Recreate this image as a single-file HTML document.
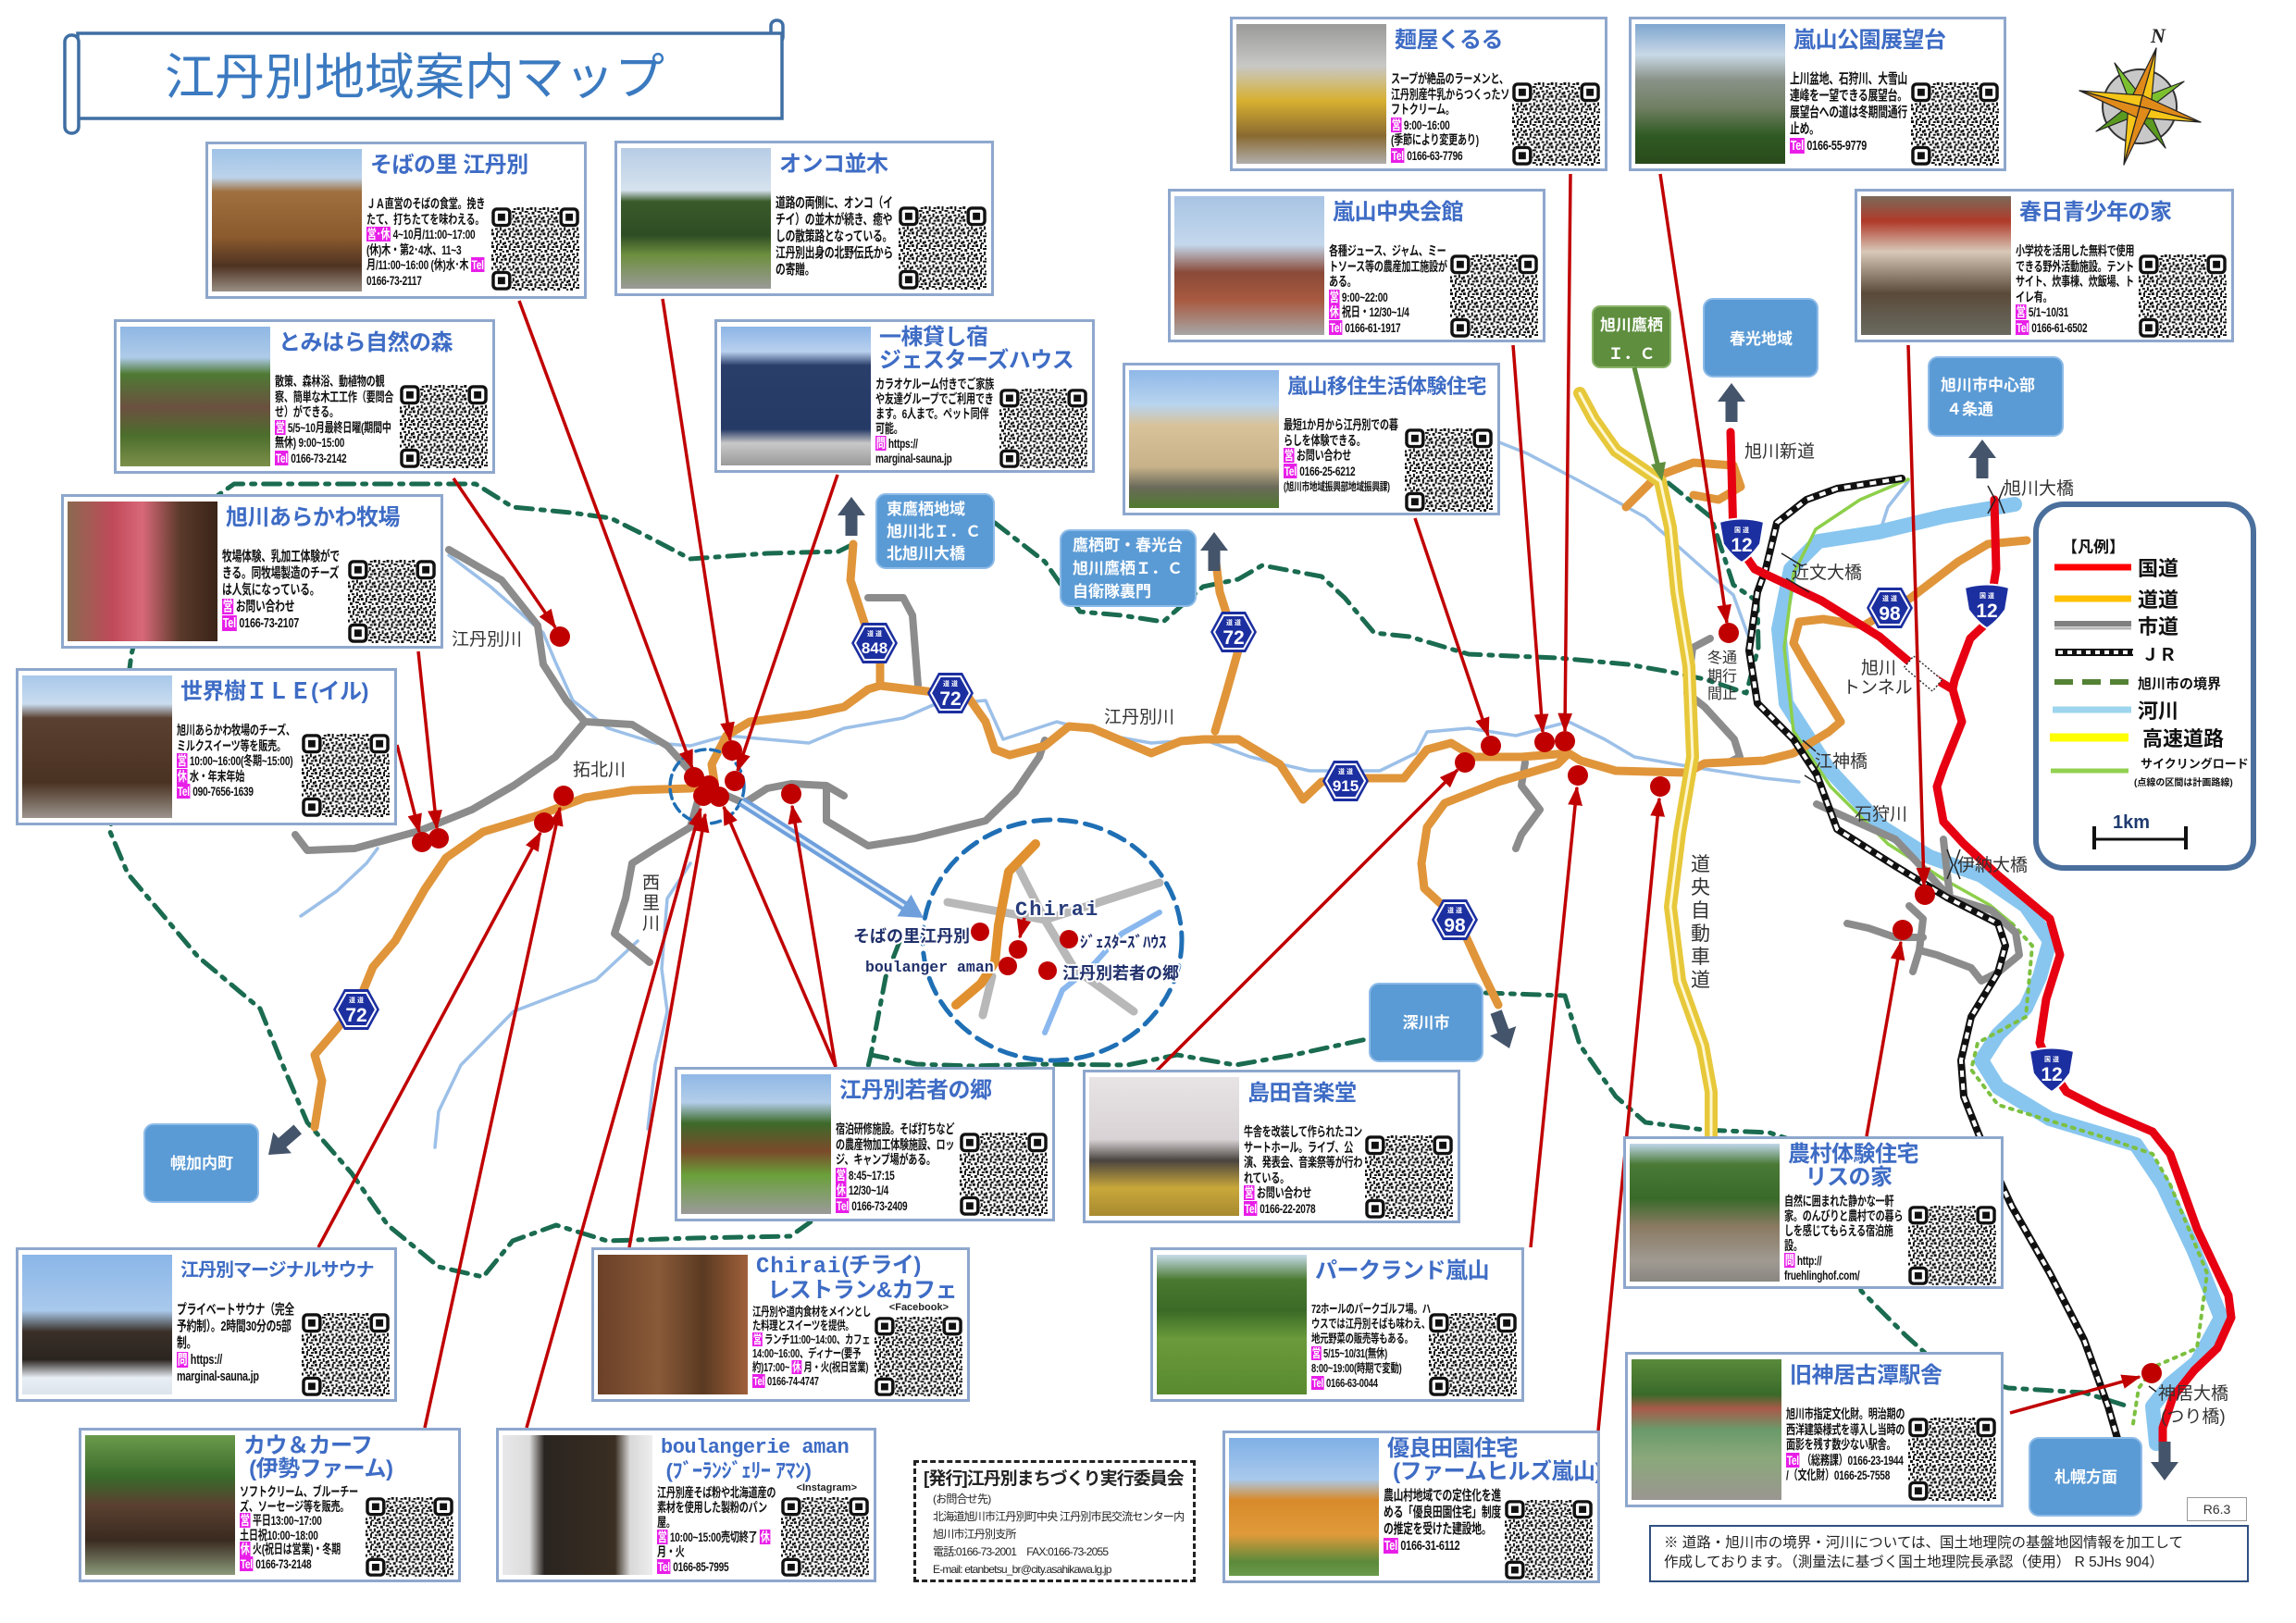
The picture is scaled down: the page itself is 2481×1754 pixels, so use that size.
<!DOCTYPE html>
<html lang="ja"><head><meta charset="utf-8"><title>江丹別地域案内マップ</title>
<style>
*{margin:0;padding:0;box-sizing:border-box}
html,body{width:2481px;height:1754px}
body{overflow:hidden;background:#fff;position:relative;font-family:"Liberation Sans","Noto Sans CJK JP",sans-serif}
.L{position:absolute;left:0;top:0}
.bx{position:absolute;background:#fff;border:3px solid #8ea7cd;overflow:hidden}
.ph{position:absolute;left:4px;top:5px;bottom:5px;width:162px}
.tt{position:absolute;left:175px;top:9px;font-weight:bold;font-size:24px;line-height:27px;color:#3e6cc5;white-space:nowrap;letter-spacing:-0.5px}
.ds{position:absolute;left:171px;top:56px;width:180px;font-weight:bold;font-size:14px;line-height:16.5px;color:#111;letter-spacing:-0.3px;transform:scaleX(.72);transform-origin:0 0}
.qr{position:absolute;right:5px;top:68px;width:95px;height:90px}
.t{font-style:normal;background:#e81ee8;color:#fff;padding:0 1px;font-weight:bold}
.two .tt{top:4px;line-height:25px}
.two .ds{top:59px;line-height:16px}
.two .qr{top:72px;height:86px}
.sm{position:absolute;font-size:11px;font-weight:bold;color:#222}
.pub{position:absolute;border:3px dashed #222;padding:6px 8px;color:#222}
.note{position:absolute;border:2px solid #2f5080;color:#222;font-size:15.5px;line-height:21px;padding:7px 14px}
</style></head><body>

<svg width="0" height="0" style="position:absolute">
<defs>
<pattern id="qp" width="14" height="14" patternUnits="userSpaceOnUse">
<rect width="14" height="14" fill="#fff"/>
<path d="M0 0h3v3H0zM5 0h2v5H5zM10 1h3v2h-3zM2 5h3v3H2zM8 4h4v2H8zM0 10h2v3H0zM4 9h3v2H4zM9 8h2v4H9zM12 11h2v3h-2zM6 12h3v2H6zM12 6h2v2h-2z" fill="#111"/>
</pattern>
<symbol id="q" viewBox="0 0 96 92" preserveAspectRatio="none">
<rect width="96" height="92" fill="url(#qp)"/>
<rect x="0" y="0" width="22" height="22" fill="#fff"/><rect x="2" y="2" width="18" height="18" rx="4" fill="none" stroke="#111" stroke-width="3.5"/><rect x="7" y="7" width="8" height="8" fill="#111"/>
<rect x="74" y="0" width="22" height="22" fill="#fff"/><rect x="76" y="2" width="18" height="18" rx="4" fill="none" stroke="#111" stroke-width="3.5"/><rect x="81" y="7" width="8" height="8" fill="#111"/>
<rect x="0" y="70" width="22" height="22" fill="#fff"/><rect x="2" y="72" width="18" height="18" rx="4" fill="none" stroke="#111" stroke-width="3.5"/><rect x="7" y="77" width="8" height="8" fill="#111"/>
</symbol>
</defs>
</svg>

<!-- MAP LAYER -->
<svg class="L" width="2481" height="1754" viewBox="0 0 2481 1754">
<defs>
<marker id="ah" viewBox="0 0 12 9" refX="11" refY="4.5" markerWidth="6" markerHeight="4.5" orient="auto" markerUnits="strokeWidth"><path d="M0,0 L12,4.5 L0,9 Z" fill="#c00000"/></marker>
</defs>
<g fill="none" stroke-linejoin="round" stroke-linecap="round">
<g stroke="#9cc0e8" stroke-width="3.5">
<path d="M485,600 L530,634 L587,684 L600,715 L619,757 L657,787 L708,803 L746,806 L785,795 L829,799 L874,803 L912,787 L976,776 L1008,762 L1065,757 L1084,799 L1142,780 L1199,795 L1244,803 L1300,799 L1351,818 L1415,833 L1491,833 L1530,814 L1542,791 L1587,787 L1638,795 L1695,780 L1734,799 L1766,818 L1829,829 L1906,841 L1944,845"/>
<path d="M746,933 L721,971 L715,1047 L721,1093 L708,1150 L700,1220"/>
<path d="M689,1017 L644,1059 L555,1093 L498,1151 L474,1201 L470,1240"/>
<path d="M325,990 L364,963 L396,933 L408,917"/>
<path d="M1560,450 L1600,470 L1650,490 L1707,520 L1778,559 L1841,615 L1873,643 L1890,690"/>
<path d="M2062,520 L2040,548 L2031,576"/>
</g>
<path d="M2177,545 L2100,558 L2030,575 L1965,585 L1935,615 L1922,680 L1930,760 L1975,830 L2035,895 L2085,926 L2141,946 L2189,979 L2215,1017 L2204,1056 L2189,1089 L2159,1118 L2141,1146 L2159,1175 L2215,1209 L2308,1237 L2337,1280 L2371,1352 L2400,1424 L2374,1472 L2345,1496 L2326,1520 L2330,1560" stroke="#88c6ef" stroke-width="16"/>
<path d="M2062,518 L2010,540 L1962,572 L1938,620 L1928,700 L1938,790 L1978,850 L2040,912 L2100,950 L2150,978 L2174,998" stroke="#8dcf4a" stroke-width="3.5"/>
<path d="M2174,998 L2196,1022 L2189,1099 L2137,1127 L2130,1156 L2159,1194 L2270,1228 L2326,1247 L2345,1280 L2385,1376 L2374,1457 L2330,1476 L2311,1500 L2304,1545" stroke="#7cc040" stroke-width="4" stroke-dasharray="3 7"/>
<g stroke="#8c8c8c" stroke-width="8">
<path d="M485,594 L542,627 L581,676 L587,718 L612,757 L632,780 L600,818 L555,849 L510,875 L453,898 L383,917 L332,919 L319,902"/>
<path d="M632,780 L683,783 L721,806 L759,848 L804,868 L829,852 L855,847 L893,849 L912,860"/>
<path d="M759,848 L746,894 L708,917 L683,933 L676,971 L664,1009 L702,1040"/>
<path d="M893,852 L893,887 L938,914 L989,906 L1065,887 L1097,856 L1123,818 L1129,800"/>
<path d="M938,646 L976,646 L986,665 L989,703 L992,741"/>
<path d="M1848,690 L1829,700 L1823,749 L1842,764 L1874,799 L1880,818 L1868,824"/>
<path d="M1648,824 L1644,849 L1664,875 L1644,902 L1638,917"/>
<path d="M1963,869 L2048,907 L2085,946 L2107,970 L2152,984 L2178,1008 L2182,1032 L2159,1051 L2141,1060 L2130,1046 L2093,1032 L2074,1027 L2078,993 L2063,979"/>
<path d="M1996,998 L2019,1003 L2048,1013 L2078,1013"/>
<path d="M2074,1027 L2067,1050"/>
<path d="M2100,907 L2107,970"/>
</g>
<g stroke="#1a6b4f" stroke-width="5" stroke-dasharray="18 9 4 9">
<path d="M922,588 L906,596 L829,598 L746,604 L700,580 L660,560 L617,554 L554,548 L514,523 L400,523 L253,523 L200,560 L160,640 L142,707 L130,800 L119,899 L138,944 L214,1034 L281,1090 L308,1157 L332,1213 L380,1268 L419,1324 L474,1369 L522,1380 L554,1341 L601,1324 L656,1341 L750,1338 L854,1336 L878,1319 L920,1230 L941,1140 L957,1056 L975,1010"/>
<path d="M941,1140 L990,1150 L1050,1152 L1120,1150 L1218,1151 L1272,1140 L1335,1151 L1398,1140 L1477,1123 L1550,1090 L1604,1073 L1691,1076 L1707,1129 L1746,1185 L1778,1213 L1841,1221 L1912,1224 L1990,1250 L2011,1395 L2059,1443 L2100,1480 L2170,1500 L2252,1505 L2300,1520"/>
<path d="M1075,565 L1129,607 L1167,661 L1212,665 L1257,672 L1300,634 L1338,626 L1364,611 L1428,623 L1453,646 L1485,684 L1523,688 L1587,707 L1683,711 L1759,718 L1804,726 L1842,734 L1887,749 L1900,700 L1899,650 L1873,632 L1849,559 L1794,515 L1746,487 L1722,453 L1707,425"/>
</g>
<g stroke="#e0953a" stroke-width="9">
<path d="M340,1218 L348,1168 L340,1140 L364,1112 L387,1084 L403,1045 L427,1017 L459,961 L482,927 L522,899 L585,880 L632,862 L683,854 L746,852 L772,845 L769,826 L785,795 L810,780 L874,772 L912,764 L938,745 L951,741 L1001,747 L1046,753 L1065,780 L1075,810 L1091,816 L1129,806 L1155,785 L1180,787 L1218,803 L1244,814 L1276,801 L1300,799 L1338,799 L1383,826 L1408,864 L1428,845 L1466,841 L1517,841 L1542,810 L1568,803 L1593,818 L1644,818 L1695,814 L1708,822 L1746,833 L1823,835 L1842,825 L1906,822 L1938,814 L1976,791 L1989,780 L1951,718 L1938,695 L1944,672 L1970,669 L2014,676 L2065,646 L2116,607 L2148,588 L2190,584"/>
<path d="M951,741 L951,715 L935,676 L919,627 L922,588"/>
<path d="M1313,790 L1325,749 L1338,703 L1318,640 L1313,600"/>
<path d="M1695,814 L1683,826 L1619,845 L1561,868 L1542,894 L1536,933 L1539,960 L1555,975 L1574,990 L1600,1047 L1619,1086"/>
<path d="M1757,548 L1790,515 L1830,500 L1873,503 L1881,526 L1857,540 L1830,535"/>
</g>
<path d="M1707,425 L1722,453 L1746,487 L1794,520 L1805,570 L1812,640 L1825,720 L1829,818 L1815,900 L1805,980 L1815,1060 L1840,1130 L1849,1180 L1849,1235" stroke="#e7c83a" stroke-width="14"/>
<path d="M1707,425 L1722,453 L1746,487 L1794,520 L1805,570 L1812,640 L1825,720 L1829,818 L1815,900 L1805,980 L1815,1060 L1840,1130 L1849,1180 L1849,1235" stroke="#fff7d0" stroke-width="3"/>
<path d="M2055,517 L1985,528 L1952,540 L1920,565 L1908,615 L1899,640 L1890,703 L1899,760 L1938,799 L1963,837 L1985,896 L2048,936 L2104,970 L2159,998 L2167,1022 L2159,1051 L2130,1099 L2119,1146 L2122,1185 L2141,1233 L2174,1304 L2215,1376 L2252,1448 L2278,1520 L2289,1558" stroke="#111" stroke-width="8"/>
<path d="M2055,517 L1985,528 L1952,540 L1920,565 L1908,615 L1899,640 L1890,703 L1899,760 L1938,799 L1963,837 L1985,896 L2048,936 L2104,970 L2159,998 L2167,1022 L2159,1051 L2130,1099 L2119,1146 L2122,1185 L2141,1233 L2174,1304 L2215,1376 L2252,1448 L2278,1520 L2289,1558" stroke="#fff" stroke-width="4" stroke-dasharray="7 7" stroke-linecap="butt"/>
<g stroke="#e60012" stroke-width="9">
<path d="M1870,467 L1873,582 L1896,615 L1968,649 L2031,688 L2070,721 L2110,745 L2120,780 L2100,830 L2093,850 L2100,888 L2122,912 L2159,946 L2215,993 L2226,1032 L2211,1080 L2204,1127 L2217,1156 L2233,1180 L2270,1199 L2326,1223 L2345,1247 L2374,1328 L2408,1400 L2411,1424 L2396,1457 L2371,1481 L2348,1510 L2337,1543 L2337,1567"/>
<path d="M2155,540 L2157,615 L2148,672 L2129,690 L2112,735 L2110,745"/>
</g>
<g stroke-width="9">
<path d="M1024,975 L1129,994 L1253,954" stroke="#b8b8b8"/>
<path d="M1100,937 L1129,994 L1161,1047 L1225,1093" stroke="#b8b8b8"/>
<path d="M1072,1055 L1062,1097" stroke="#b8b8b8"/>
<path d="M1253,986 L1212,1009 L1180,1044 L1148,1070 L1129,1116" stroke="#8ab8ee" stroke-width="6"/>
<path d="M1119,912 L1090,942 L1079,1000 L1075,1040 L1060,1063 L1033,1086" stroke="#e0902e" stroke-width="10"/>
</g>
<circle cx="764" cy="850" r="40" stroke="#1f6fb5" stroke-width="3.5" stroke-dasharray="10 6"/>
<ellipse cx="1137" cy="1016" rx="140" ry="130" stroke="#1f6fb5" stroke-width="5" stroke-dasharray="18 10"/>
<line x1="801" y1="866" x2="977" y2="979" stroke="#6fa0dc" stroke-width="11" stroke-linecap="butt"/>
<line x1="801" y1="866" x2="977" y2="979" stroke="#e2eefa" stroke-width="3" stroke-linecap="butt"/>
</g>
<polygon points="998,992 969.5,990.3 984.5,966.7" fill="#6fa0dc"/>
<rect x="-20" y="-8" width="40" height="16" fill="#fff" stroke="#333" stroke-width="1.5" stroke-dasharray="2 2" transform="translate(2078,728) rotate(40)"/>
<g stroke="#222" stroke-width="1.5" fill="none">
<path d="M1925,598 L1948,612 M1930,625 L1955,640"/>
<path d="M1948,800 L1962,812 M1950,838 L1966,848"/>
<path d="M2104,918 L2110,935 L2104,950 M2118,918 L2112,935 L2118,950"/>
<path d="M2148,525 L2156,540 L2148,555 M2166,525 L2160,540 L2166,555"/>
<path d="M2322,1498 L2330,1504"/>
</g>
<g font-family="Liberation Sans,Noto Sans CJK JP,sans-serif" font-weight="bold" text-anchor="middle">
<g transform="translate(945,695)"><polygon points="-25,0 -13,-22 13,-22 25,0 13,22 -13,22" fill="#1c2fa0"/><polygon points="-21,0 -11,-18 11,-18 21,0 11,18 -11,18" fill="none" stroke="#fff" stroke-width="2"/><text y="-8" font-size="7" fill="#fff">道 道</text><text y="11" font-size="17" fill="#fff">848</text></g>
<g transform="translate(1027,749)"><polygon points="-25,0 -13,-22 13,-22 25,0 13,22 -13,22" fill="#1c2fa0"/><polygon points="-21,0 -11,-18 11,-18 21,0 11,18 -11,18" fill="none" stroke="#fff" stroke-width="2"/><text y="-8" font-size="7" fill="#fff">道 道</text><text y="13" font-size="21" fill="#fff">72</text></g>
<g transform="translate(385,1091)"><polygon points="-25,0 -13,-22 13,-22 25,0 13,22 -13,22" fill="#1c2fa0"/><polygon points="-21,0 -11,-18 11,-18 21,0 11,18 -11,18" fill="none" stroke="#fff" stroke-width="2"/><text y="-8" font-size="7" fill="#fff">道 道</text><text y="13" font-size="21" fill="#fff">72</text></g>
<g transform="translate(1333,683)"><polygon points="-25,0 -13,-22 13,-22 25,0 13,22 -13,22" fill="#1c2fa0"/><polygon points="-21,0 -11,-18 11,-18 21,0 11,18 -11,18" fill="none" stroke="#fff" stroke-width="2"/><text y="-8" font-size="7" fill="#fff">道 道</text><text y="13" font-size="21" fill="#fff">72</text></g>
<g transform="translate(1454,844)"><polygon points="-25,0 -13,-22 13,-22 25,0 13,22 -13,22" fill="#1c2fa0"/><polygon points="-21,0 -11,-18 11,-18 21,0 11,18 -11,18" fill="none" stroke="#fff" stroke-width="2"/><text y="-8" font-size="7" fill="#fff">道 道</text><text y="11" font-size="17" fill="#fff">915</text></g>
<g transform="translate(1572,994)"><polygon points="-25,0 -13,-22 13,-22 25,0 13,22 -13,22" fill="#1c2fa0"/><polygon points="-21,0 -11,-18 11,-18 21,0 11,18 -11,18" fill="none" stroke="#fff" stroke-width="2"/><text y="-8" font-size="7" fill="#fff">道 道</text><text y="13" font-size="21" fill="#fff">98</text></g>
<g transform="translate(2042,657)"><polygon points="-25,0 -13,-22 13,-22 25,0 13,22 -13,22" fill="#1c2fa0"/><polygon points="-21,0 -11,-18 11,-18 21,0 11,18 -11,18" fill="none" stroke="#fff" stroke-width="2"/><text y="-8" font-size="7" fill="#fff">道 道</text><text y="13" font-size="21" fill="#fff">98</text></g>
<g transform="translate(1882,584)"><path d="M-24,-20 Q0,-27 24,-20 L20,4 Q10,18 0,24 Q-10,18 -20,4 Z" fill="#1c2fa0" stroke="#fff" stroke-width="2"/><text y="-9" font-size="7" fill="#fff">国 道</text><text y="12" font-size="21" fill="#fff">12</text></g>
<g transform="translate(2147,655)"><path d="M-24,-20 Q0,-27 24,-20 L20,4 Q10,18 0,24 Q-10,18 -20,4 Z" fill="#1c2fa0" stroke="#fff" stroke-width="2"/><text y="-9" font-size="7" fill="#fff">国 道</text><text y="12" font-size="21" fill="#fff">12</text></g>
<g transform="translate(2217,1156)"><path d="M-24,-20 Q0,-27 24,-20 L20,4 Q10,18 0,24 Q-10,18 -20,4 Z" fill="#1c2fa0" stroke="#fff" stroke-width="2"/><text y="-9" font-size="7" fill="#fff">国 道</text><text y="12" font-size="21" fill="#fff">12</text></g>
</g>
<g font-family="Liberation Sans,Noto Sans CJK JP,sans-serif" font-size="19" fill="#333">
<text x="488" y="697">江丹別川</text>
<text x="619" y="838">拓北川</text>
<text x="694" y="960">西</text><text x="694" y="982">里</text><text x="694" y="1004">川</text>
<text x="1193" y="781">江丹別川</text>
<text x="1885" y="494">旭川新道</text>
<text x="2165" y="534">旭川大橋</text>
<text x="1936" y="625">近文大橋</text>
<text x="1845" y="716" font-size="16">冬通</text><text x="1845" y="736" font-size="16">期行</text><text x="1845" y="755" font-size="16">間止</text>
<text x="2011" y="728">旭川</text><text x="1991" y="749">トンネル</text>
<text x="1961" y="829">江神橋</text>
<text x="2004" y="886">石狩川</text>
<text x="2115" y="941">伊納大橋</text>
<g font-size="21"><text x="1827" y="941">道</text><text x="1827" y="966">央</text><text x="1827" y="991">自</text><text x="1827" y="1016">動</text><text x="1827" y="1041">車</text><text x="1827" y="1066">道</text></g>
<text x="2332" y="1512">神居大橋</text>
<text x="2335" y="1537">(つり橋)</text>
</g>
<g font-weight="bold" stroke="#fff" stroke-width="4" paint-order="stroke" fill="#1f2f6a">
<text x="1097" y="989" font-family="Liberation Mono,monospace" font-size="22" fill="#283c7a" letter-spacing="2">Chirai</text>
<text x="922" y="1018" font-family="Liberation Sans,Noto Sans CJK JP,sans-serif" font-size="18">そばの里江丹別</text>
<text x="935" y="1050" font-family="Liberation Mono,monospace" font-size="16.5">boulanger aman</text>
<text x="1167" y="1024" font-family="Liberation Sans,Noto Sans CJK JP,sans-serif" font-size="17">ｼﾞｪｽﾀｰｽﾞﾊｳｽ</text>
<text x="1148" y="1058" font-family="Liberation Sans,Noto Sans CJK JP,sans-serif" font-size="18">江丹別若者の郷</text>
</g>
<g stroke="#c00000" stroke-width="3.5" marker-end="url(#ah)" fill="none">
<line x1="561" y1="325" x2="748" y2="830"/>
<line x1="716" y1="323" x2="789" y2="800"/>
<line x1="490" y1="517" x2="600" y2="678"/>
<line x1="905" y1="513" x2="797" y2="833"/>
<line x1="452" y1="704" x2="472" y2="895"/>
<line x1="429" y1="805" x2="453" y2="899"/>
<line x1="1635" y1="373" x2="1667" y2="791"/>
<line x1="1697" y1="188" x2="1691" y2="790"/>
<line x1="1794" y1="188" x2="1866" y2="673"/>
<line x1="2062" y1="373" x2="2079" y2="957"/>
<line x1="1529" y1="560" x2="1608" y2="795"/>
<line x1="903" y1="1153" x2="782" y2="872"/>
<line x1="903" y1="1153" x2="856" y2="871"/>
<line x1="680" y1="1348" x2="762" y2="880"/>
<line x1="569" y1="1543" x2="757" y2="874"/>
<line x1="459" y1="1543" x2="605" y2="873"/>
<line x1="344" y1="1348" x2="584" y2="900"/>
<line x1="1250" y1="1157" x2="1575" y2="832"/>
<line x1="1654" y1="1348" x2="1704" y2="851"/>
<line x1="1727" y1="1546" x2="1793" y2="863"/>
<line x1="2017" y1="1228" x2="2054" y2="1018"/>
<line x1="2172" y1="1527" x2="2312" y2="1488"/>
<line x1="1107" y1="992" x2="1102" y2="1013"/>
</g>
<g fill="#c00000">
<circle cx="605" cy="688" r="11"/><circle cx="456" cy="910" r="11"/><circle cx="474" cy="906" r="11"/>
<circle cx="609" cy="860" r="11"/><circle cx="588" cy="889" r="11"/>
<circle cx="750" cy="840" r="11"/><circle cx="791" cy="811" r="11"/><circle cx="794" cy="844" r="11"/>
<circle cx="766" cy="849" r="11"/><circle cx="760" cy="860" r="11"/><circle cx="777" cy="861" r="11"/>
<circle cx="855" cy="858" r="11"/>
<circle cx="1611" cy="806" r="11"/><circle cx="1669" cy="802" r="11"/><circle cx="1691" cy="801" r="11"/>
<circle cx="1583" cy="824" r="11"/><circle cx="1705" cy="838" r="11"/><circle cx="1794" cy="850" r="11"/>
<circle cx="1868" cy="684" r="11"/><circle cx="2080" cy="967" r="11"/><circle cx="2056" cy="1005" r="11"/>
<circle cx="2325" cy="1484" r="11"/>
<circle cx="1059" cy="1007" r="10"/><circle cx="1100" cy="1026" r="10"/><circle cx="1089" cy="1044" r="10"/>
<circle cx="1155" cy="1015" r="10"/><circle cx="1132" cy="1049" r="10"/>
</g>
</svg>

<!-- INFO BOXES -->
<div class="bx" style="left:222px;top:153px;width:412px;height:170px"><div class="ph" style="background:linear-gradient(#9fc3e8 0,#bcd3ea 20%,#a0703f 30%,#8b5a2d 62%,#4e3322 82%,#9a8f84 100%)"></div><div class="tt">そばの里 江丹別</div><div class="ds">ＪＡ直営のそばの食堂。挽きたて、打ちたてを味わえる。<br><i class="t">営･休</i> 4~10月/11:00~17:00 (休)木・第2･4水、11~3月/11:00~16:00 (休)水･木 <i class="t">Tel</i> 0166-73-2117</div><svg class="qr" viewBox="0 0 96 92" preserveAspectRatio="none"><use href="#q"/></svg></div>

<div class="bx" style="left:664px;top:152px;width:410px;height:168px"><div class="ph" style="background:linear-gradient(#b7cde6 0,#d6e2ee 30%,#3a5a2a 38%,#2f4d24 62%,#6d8f3e 76%,#9a9a98 100%)"></div><div class="tt">オンコ並木</div><div class="ds" style="font-size:15px;line-height:18px">道路の両側に、オンコ（イチイ）の並木が続き、癒やしの散策路となっている。江丹別出身の北野伝氏からの寄贈。</div><svg class="qr" viewBox="0 0 96 92" preserveAspectRatio="none"><use href="#q"/></svg></div>

<div class="bx" style="left:123px;top:345px;width:412px;height:167px"><div class="ph" style="background:linear-gradient(#8fb7e4 0,#aecbe9 22%,#4f7a34 34%,#6b5040 58%,#4c6e2c 78%,#7c8f4a 100%)"></div><div class="tt">とみはら自然の森</div><div class="ds">散策、森林浴、動植物の観察、簡単な木工工作（要問合せ）ができる。<br><i class="t">営</i> 5/5~10月最終日曜(期間中無休) 9:00~15:00<br><i class="t">Tel</i> 0166-73-2142</div><svg class="qr" viewBox="0 0 96 92" preserveAspectRatio="none"><use href="#q"/></svg></div>

<div class="bx two" style="left:772px;top:345px;width:411px;height:166px"><div class="ph" style="background:linear-gradient(#8db4e6 0,#b9d1ef 18%,#2a3e6a 28%,#263a66 74%,#c8c8c8 84%,#9a9a9a 100%)"></div><div class="tt">一棟貸し宿<br>ジェスターズハウス</div><div class="ds">カラオケルーム付きでご家族や友達グループでご利用できます。6人まで。ペット同伴可能。<br><i class="t">問</i> https://<br>marginal-sauna.jp</div><svg class="qr" viewBox="0 0 96 92" preserveAspectRatio="none"><use href="#q"/></svg></div>

<div class="bx" style="left:66px;top:534px;width:413px;height:167px"><div class="ph" style="background:linear-gradient(90deg,#8a6a50 0,#c04a5a 30%,#d86878 50%,#5a3a2a 75%,#3a2418 100%)"></div><div class="tt">旭川あらかわ牧場</div><div class="ds" style="font-size:15px;line-height:18px">牧場体験、乳加工体験ができる。同牧場製造のチーズは人気になっている。<br><i class="t">営</i> お問い合わせ<br><i class="t">Tel</i> 0166-73-2107</div><svg class="qr" viewBox="0 0 96 92" preserveAspectRatio="none"><use href="#q"/></svg></div>

<div class="bx" style="left:17px;top:722px;width:412px;height:170px"><div class="ph" style="background:linear-gradient(#a8c8ea 0,#c9dcef 20%,#5a4030 30%,#4a3222 75%,#9b948c 100%)"></div><div class="tt">世界樹ＩＬＥ(イル)</div><div class="ds">旭川あらかわ牧場のチーズ、ミルクスイーツ等を販売。<br><i class="t">営</i> 10:00~16:00(冬期~15:00) <i class="t">休</i> 水・年末年始<br><i class="t">Tel</i> 090-7656-1639</div><svg class="qr" viewBox="0 0 96 92" preserveAspectRatio="none"><use href="#q"/></svg></div>

<div class="bx" style="left:1329px;top:18px;width:408px;height:167px"><div class="ph" style="background:linear-gradient(#9a9a98 0,#c8c8c6 30%,#d7b030 55%,#8a6a30 80%,#b0aeac 100%)"></div><div class="tt">麺屋くるる</div><div class="ds">スープが絶品のラーメンと、江丹別産牛乳からつくったソフトクリーム。<br><i class="t">営</i> 9:00~16:00<br>(季節により変更あり)<br><i class="t">Tel</i> 0166-63-7796</div><svg class="qr" viewBox="0 0 96 92" preserveAspectRatio="none"><use href="#q"/></svg></div>

<div class="bx" style="left:1760px;top:18px;width:408px;height:167px"><div class="ph" style="background:linear-gradient(#7fa6d0 0,#c8d8e6 22%,#8a9288 40%,#6f7f62 60%,#2f5a22 80%,#2a4a1c 100%)"></div><div class="tt">嵐山公園展望台</div><div class="ds" style="font-size:15px;line-height:18px">上川盆地、石狩川、大雪山連峰を一望できる展望台。展望台への道は冬期間通行止め。<br><i class="t">Tel</i> 0166-55-9779</div><svg class="qr" viewBox="0 0 96 92" preserveAspectRatio="none"><use href="#q"/></svg></div>

<div class="bx" style="left:1262px;top:204px;width:408px;height:166px"><div class="ph" style="background:linear-gradient(#a8c4e4 0,#c4d8ec 35%,#8a4a38 55%,#a85a40 75%,#a6a6a6 100%)"></div><div class="tt">嵐山中央会館</div><div class="ds">各種ジュース、ジャム、ミートソース等の農産加工施設がある。<br><i class="t">営</i> 9:00~22:00<br><i class="t">休</i> 祝日・12/30~1/4<br><i class="t">Tel</i> 0166-61-1917</div><svg class="qr" viewBox="0 0 96 92" preserveAspectRatio="none"><use href="#q"/></svg></div>

<div class="bx" style="left:2004px;top:204px;width:410px;height:166px"><div class="ph" style="background:linear-gradient(#7a6a5a 0,#b03a2a 18%,#d8c8b8 40%,#5a4a3a 70%,#6a6a60 100%)"></div><div class="tt">春日青少年の家</div><div class="ds">小学校を活用した無料で使用できる野外活動施設。テントサイト、炊事棟、炊飯場、トイレ有。<br><i class="t">営</i> 5/1~10/31<br><i class="t">Tel</i> 0166-61-6502</div><svg class="qr" viewBox="0 0 96 92" preserveAspectRatio="none"><use href="#q"/></svg></div>

<div class="bx" style="left:1213px;top:392px;width:408px;height:165px"><div class="ph" style="background:linear-gradient(#8fb8e8 0,#b8d4ef 25%,#d8c29a 40%,#c8b28a 70%,#6a6a5a 85%,#4f7a2e 100%)"></div><div class="tt" style="font-size:22px">嵐山移住生活体験住宅</div><div class="ds">最短1か月から江丹別での暮らしを体験できる。<br><i class="t">営</i> お問い合わせ<br><i class="t">Tel</i> 0166-25-6212<br><span style="font-size:12px">(旭川市地域振興部地域振興課)</span></div><svg class="qr" viewBox="0 0 96 92" preserveAspectRatio="none"><use href="#q"/></svg></div>

<div class="bx" style="left:729px;top:1153px;width:411px;height:167px"><div class="ph" style="background:linear-gradient(#8fb8e6 0,#b3cde9 20%,#3d6a2a 35%,#7a4a2a 55%,#6aa03a 72%,#9a9a9a 100%)"></div><div class="tt">江丹別若者の郷</div><div class="ds">宿泊研修施設。そば打ちなどの農産物加工体験施設、ロッジ、キャンプ場がある。<br><i class="t">営</i> 8:45~17:15<br><i class="t">休</i> 12/30~1/4<br><i class="t">Tel</i> 0166-73-2409</div><svg class="qr" viewBox="0 0 96 92" preserveAspectRatio="none"><use href="#q"/></svg></div>

<div class="bx" style="left:1170px;top:1156px;width:408px;height:166px"><div class="ph" style="background:linear-gradient(#e8e4e6 0,#d8d2d4 45%,#4a4440 60%,#c9a83a 80%,#a88a30 100%)"></div><div class="tt">島田音楽堂</div><div class="ds">牛舎を改装して作られたコンサートホール。ライブ、公演、発表会、音楽祭等が行われている。<br><i class="t">営</i> お問い合わせ<br><i class="t">Tel</i> 0166-22-2078</div><svg class="qr" viewBox="0 0 96 92" preserveAspectRatio="none"><use href="#q"/></svg></div>

<div class="bx" style="left:17px;top:1348px;width:412px;height:167px"><div class="ph" style="background:linear-gradient(#8ab6e8 0,#a9c9ec 40%,#3a3028 55%,#2a2420 75%,#e8eef4 88%,#dce4ec 100%)"></div><div class="tt" style="font-size:20px;letter-spacing:-1px">江丹別マージナルサウナ</div><div class="ds" style="font-size:15px;line-height:18px">プライベートサウナ（完全予約制）。2時間30分の5部制。<br><i class="t">問</i> https://<br>marginal-sauna.jp</div><svg class="qr" viewBox="0 0 96 92" preserveAspectRatio="none"><use href="#q"/></svg></div>

<div class="bx two" style="left:639px;top:1348px;width:409px;height:167px"><div class="ph" style="background:linear-gradient(90deg,#6a4028 0,#8a5a38 40%,#5a3a22 70%,#a0603a 100%)"></div><div class="tt"><span style="font-family:'Liberation Mono','Noto Sans CJK JP',monospace;letter-spacing:1px">Chirai</span>(チライ)<br>&nbsp;&nbsp;レストラン&amp;カフェ</div><div class="ds" style="font-size:13px;line-height:15px">江丹別や道内食材をメインとした料理とスイーツを提供。<br><i class="t">営</i> ランチ11:00~14:00、カフェ14:00~16:00、ディナー(要予約)17:00~ <i class="t">休</i> 月・火(祝日営業) <i class="t">Tel</i> 0166-74-4747</div><div class="sm" style="right:20px;top:56px">&lt;Facebook&gt;</div><svg class="qr" viewBox="0 0 96 92" preserveAspectRatio="none"><use href="#q"/></svg></div>

<div class="bx" style="left:1243px;top:1348px;width:404px;height:167px"><div class="ph" style="background:linear-gradient(#c8dcea 0,#4a7a30 18%,#3a6a26 40%,#6a9a3a 60%,#5a8a30 100%)"></div><div class="tt">パークランド嵐山</div><div class="ds" style="font-size:13px;line-height:16px">72ホールのパークゴルフ場。ハウスでは江丹別そばも味わえ、地元野菜の販売等もある。<br><i class="t">営</i> 5/15~10/31(無休)<br>8:00~19:00(時期で変動)<br><i class="t">Tel</i> 0166-63-0044</div><svg class="qr" viewBox="0 0 96 92" preserveAspectRatio="none"><use href="#q"/></svg></div>

<div class="bx two" style="left:1754px;top:1228px;width:411px;height:165px"><div class="ph" style="background:linear-gradient(#c0d6ea 0,#4a7a36 15%,#3a6a2a 40%,#8a7a62 60%,#a09a92 85%,#8a8680 100%)"></div><div class="tt">農村体験住宅<br>&nbsp;&nbsp;&nbsp;リスの家</div><div class="ds">自然に囲まれた静かな一軒家。のんびりと農村での暮らしを感じてもらえる宿泊施設。<br><i class="t">問</i> http://<br>fruehlinghof.com/</div><svg class="qr" viewBox="0 0 96 92" preserveAspectRatio="none"><use href="#q"/></svg></div>

<div class="bx two" style="left:85px;top:1543px;width:413px;height:167px"><div class="ph" style="background:linear-gradient(#6a9a4a 0,#3a6a2a 30%,#5a4030 50%,#3a2a20 75%,#8a9a7a 100%)"></div><div class="tt">カウ＆カーフ<br>&nbsp;(伊勢ファーム)</div><div class="ds" style="line-height:15.5px">ソフトクリーム、ブルーチーズ、ソーセージ等を販売。<br><i class="t">営</i> 平日13:00~17:00<br>土日祝10:00~18:00<br><i class="t">休</i> 火(祝日は営業)・冬期<br><i class="t">Tel</i> 0166-73-2148</div><svg class="qr" viewBox="0 0 96 92" preserveAspectRatio="none"><use href="#q"/></svg></div>

<div class="bx two" style="left:536px;top:1543px;width:411px;height:167px"><div class="ph" style="background:linear-gradient(90deg,#e8e8ea 0,#dcdcdc 18%,#2a2420 28%,#3a2e22 75%,#d8d8d8 85%,#eee 100%)"></div><div class="tt" style="font-size:22px"><span style="font-family:'Liberation Mono','Noto Sans CJK JP',monospace">boulangerie aman</span><br>&nbsp;(ﾌﾞｰﾗﾝｼﾞｪﾘｰ ｱﾏﾝ)</div><div class="ds">江丹別産そば粉や北海道産の素材を使用した製粉のパン屋。<br><i class="t">営</i> 10:00~15:00売切終了 <i class="t">休</i> 月・火<br><i class="t">Tel</i> 0166-85-7995</div><div class="sm" style="right:18px;top:56px">&lt;Instagram&gt;</div><svg class="qr" viewBox="0 0 96 92" preserveAspectRatio="none"><use href="#q"/></svg></div>

<div class="bx two" style="left:1321px;top:1546px;width:408px;height:165px"><div class="ph" style="background:linear-gradient(#7fb0e6 0,#a9c9ec 30%,#d88a2a 45%,#e09a3a 70%,#5a8a3a 90%,#6a9a4a 100%)"></div><div class="tt">優良田園住宅<br>&nbsp;(ファームヒルズ嵐山)</div><div class="ds" style="font-size:15px;line-height:18px">農山村地域での定住化を進める「優良田園住宅」制度の推定を受けた建設地。<br><i class="t">Tel</i> 0166-31-6112</div><svg class="qr" viewBox="0 0 96 92" preserveAspectRatio="none"><use href="#q"/></svg></div>

<div class="bx" style="left:1756px;top:1461px;width:409px;height:168px"><div class="ph" style="background:linear-gradient(#5a8a3a 0,#3a6a2a 25%,#a85a4a 35%,#6a9a6a 50%,#8aa87a 70%,#9a9690 100%)"></div><div class="tt">旧神居古潭駅舎</div><div class="ds">旭川市指定文化財。明治期の西洋建築様式を導入し当時の面影を残す数少ない駅舎。<br><i class="t">Tel</i> （総務課）0166-23-1944 /（文化財）0166-25-7558</div><svg class="qr" viewBox="0 0 96 92" preserveAspectRatio="none"><use href="#q"/></svg></div>

<div class="pub" style="left:987px;top:1578px;width:305px;height:132px">
<div style="font-size:19px;font-weight:bold;letter-spacing:-1px;line-height:24px;white-space:nowrap">[発行]江丹別まちづくり実行委員会</div>
<div style="font-size:12px;line-height:19px;padding-left:10px;letter-spacing:-0.8px;white-space:nowrap">(お問合せ先)<br>北海道旭川市江丹別町中央 江丹別市民交流センター内<br>旭川市江丹別支所<br>電話:0166-73-2001　FAX:0166-73-2055<br>E-mail: etanbetsu_br@city.asahikawa.lg.jp</div>
</div>
<div class="note" style="left:1782px;top:1648px;width:648px;height:62px">※ 道路・旭川市の境界・河川については、国土地理院の基盤地図情報を加工して<br>作成しております。（測量法に基づく国土地理院長承認（使用） R 5JHs 904）</div>
<div style="position:absolute;left:2363px;top:1618px;width:65px;height:26px;border:1px solid #999;font-size:14px;line-height:24px;text-align:center;color:#333">R6.3</div>

<!-- OVERLAY -->
<svg class="L" width="2481" height="1754" viewBox="0 0 2481 1754" style="pointer-events:none">
<g fill="#fff" stroke="#3f6fa3" stroke-width="3.5">
<rect x="833" y="22" width="13" height="24" rx="6"/>
<rect x="84" y="36" width="761" height="92"/>
<rect x="70" y="38" width="15" height="106" rx="7"/>
</g>
<text x="178" y="102" font-family="Liberation Sans,Noto Sans CJK JP,sans-serif" font-size="54" fill="#3b7ac0">江丹別地域案内マップ</text>

<g fill="#5b9bd5" stroke="#8dbbe8" stroke-width="2">
<rect x="947" y="534" width="127" height="80" rx="10"/>
<rect x="1146" y="573" width="146" height="82" rx="10"/>
<rect x="1841" y="323" width="123" height="84" rx="10"/>
<rect x="2084" y="386" width="145" height="85" rx="10"/>
<rect x="1480" y="1063" width="122" height="84" rx="10"/>
<rect x="156" y="1215" width="123" height="84" rx="10"/>
<rect x="2193" y="1554" width="121" height="84" rx="10"/>
</g>
<rect x="1721" y="331" width="84" height="66" rx="8" fill="#5e8e3e" stroke="#8ab46a" stroke-width="2"/>
<g font-family="Liberation Sans,Noto Sans CJK JP,sans-serif" font-weight="bold" fill="#fff" font-size="17">
<text x="958" y="556">東鷹栖地域</text><text x="958" y="580">旭川北Ｉ．Ｃ</text><text x="958" y="604">北旭川大橋</text>
<text x="1159" y="595">鷹栖町・春光台</text><text x="1159" y="620">旭川鷹栖Ｉ．Ｃ</text><text x="1159" y="645">自衛隊裏門</text>
<text x="1903" y="372" text-anchor="middle">春光地域</text>
<text x="2097" y="422">旭川市中心部</text><text x="2103" y="448">４条通</text>
<text x="1541" y="1111" text-anchor="middle">深川市</text>
<text x="218" y="1263" text-anchor="middle">幌加内町</text>
<text x="2254" y="1602" text-anchor="middle">札幌方面</text>
<text x="1763" y="357" text-anchor="middle">旭川鷹栖</text><text x="1763" y="388" text-anchor="middle">Ｉ．Ｃ</text>
</g>
<line x1="1766" y1="397" x2="1792" y2="505" stroke="#5e8e3e" stroke-width="5"/>
<polygon points="1796,520 1784,502 1800,499" fill="#5e8e3e"/>
<g fill="#44546a">
<polygon transform="translate(920,537)" points="0,0 15,20 6.5,20 6.5,42 -6.5,42 -6.5,20 -15,20"/>
<polygon transform="translate(1312,575)" points="0,0 15,20 6.5,20 6.5,42 -6.5,42 -6.5,20 -15,20"/>
<polygon transform="translate(1871,414)" points="0,0 15,20 6.5,20 6.5,42 -6.5,42 -6.5,20 -15,20"/>
<polygon transform="translate(2142,475)" points="0,0 15,20 6.5,20 6.5,42 -6.5,42 -6.5,20 -15,20"/>
<polygon transform="translate(2339,1600) rotate(180)" points="0,0 15,20 6.5,20 6.5,42 -6.5,42 -6.5,20 -15,20"/>
<polygon transform="translate(1631,1133) rotate(160)" points="0,0 15,20 6.5,20 6.5,42 -6.5,42 -6.5,20 -15,20"/>
<polygon transform="translate(290,1248) rotate(229)" points="0,0 15,20 6.5,20 6.5,42 -6.5,42 -6.5,20 -15,20"/>
</g>

<rect x="2200" y="545" width="235" height="393" rx="30" fill="#fff" stroke="#4a6f9c" stroke-width="6"/>
<g font-family="Liberation Sans,Noto Sans CJK JP,sans-serif" font-weight="bold" fill="#111">
<text x="2228" y="597" font-size="17">【凡例】</text>
<line x1="2220" y1="613" x2="2303" y2="613" stroke="#ff0000" stroke-width="7"/><text x="2310" y="622" font-size="22">国道</text>
<line x1="2220" y1="647" x2="2303" y2="647" stroke="#ffc000" stroke-width="7"/><text x="2310" y="656" font-size="22">道道</text>
<line x1="2220" y1="674" x2="2303" y2="674" stroke="#808080" stroke-width="6"/><line x1="2220" y1="679" x2="2303" y2="679" stroke="#b8b8b8" stroke-width="3"/><text x="2310" y="685" font-size="22">市道</text>
<line x1="2221" y1="705" x2="2305" y2="705" stroke="#111" stroke-width="8"/><line x1="2224" y1="705" x2="2305" y2="705" stroke="#fff" stroke-width="4" stroke-dasharray="5 5"/><text x="2314" y="714" font-size="19">ＪＲ</text>
<line x1="2220" y1="737" x2="2300" y2="737" stroke="#548235" stroke-width="6" stroke-dasharray="20 10"/><text x="2310" y="744" font-size="15">旭川市の境界</text>
<line x1="2218" y1="767" x2="2303" y2="767" stroke="#9dd5ee" stroke-width="7"/><text x="2310" y="776" font-size="22">河川</text>
<line x1="2215" y1="797" x2="2300" y2="797" stroke="#ffff00" stroke-width="9"/><text x="2315" y="806" font-size="22">高速道路</text>
<line x1="2216" y1="833" x2="2300" y2="833" stroke="#92d050" stroke-width="5"/><text x="2313" y="830" font-size="13">サイクリングロード</text><text x="2306" y="849" font-size="10">(点線の区間は計画路線)</text>
<text x="2283" y="895" font-size="20" fill="#1f3a70">1km</text>
<line x1="2263" y1="907" x2="2362" y2="907" stroke="#111" stroke-width="3"/>
<line x1="2263" y1="893" x2="2263" y2="918" stroke="#111" stroke-width="4"/><line x1="2362" y1="893" x2="2362" y2="918" stroke="#111" stroke-width="4"/>
</g>

<g stroke="#222" stroke-width="1.2" stroke-linejoin="round">
<circle cx="2312" cy="115" r="40" fill="#c8c8c8" stroke="#333" stroke-width="2"/>
<polygon points="2360,88 2316,122 2308,108" fill="#7cc030"/>
<polygon points="2285,68 2319,111 2305,119" fill="#7cc030"/>
<polygon points="2340,160 2305,119 2319,111" fill="#5a9a20"/>
<polygon points="2265,142 2308,108 2316,122" fill="#5a9a20"/>
<polygon points="2330,52 2312,115 2324,118" fill="#f5c518"/><polygon points="2330,52 2312,115 2300,112" fill="#e08a1a"/>
<polygon points="2378,132 2312,115 2309,127" fill="#f5c518"/><polygon points="2378,132 2312,115 2315,103" fill="#e08a1a"/>
<polygon points="2295,178 2312,115 2300,112" fill="#f5c518"/><polygon points="2295,178 2312,115 2324,118" fill="#e08a1a"/>
<polygon points="2247,98 2312,115 2315,103" fill="#f5c518"/><polygon points="2247,98 2312,115 2309,127" fill="#e08a1a"/>
</g>
<text x="2324" y="46" font-family="Liberation Serif,serif" font-style="italic" font-weight="bold" font-size="22" fill="#222">N</text>
</svg>
</body></html>
